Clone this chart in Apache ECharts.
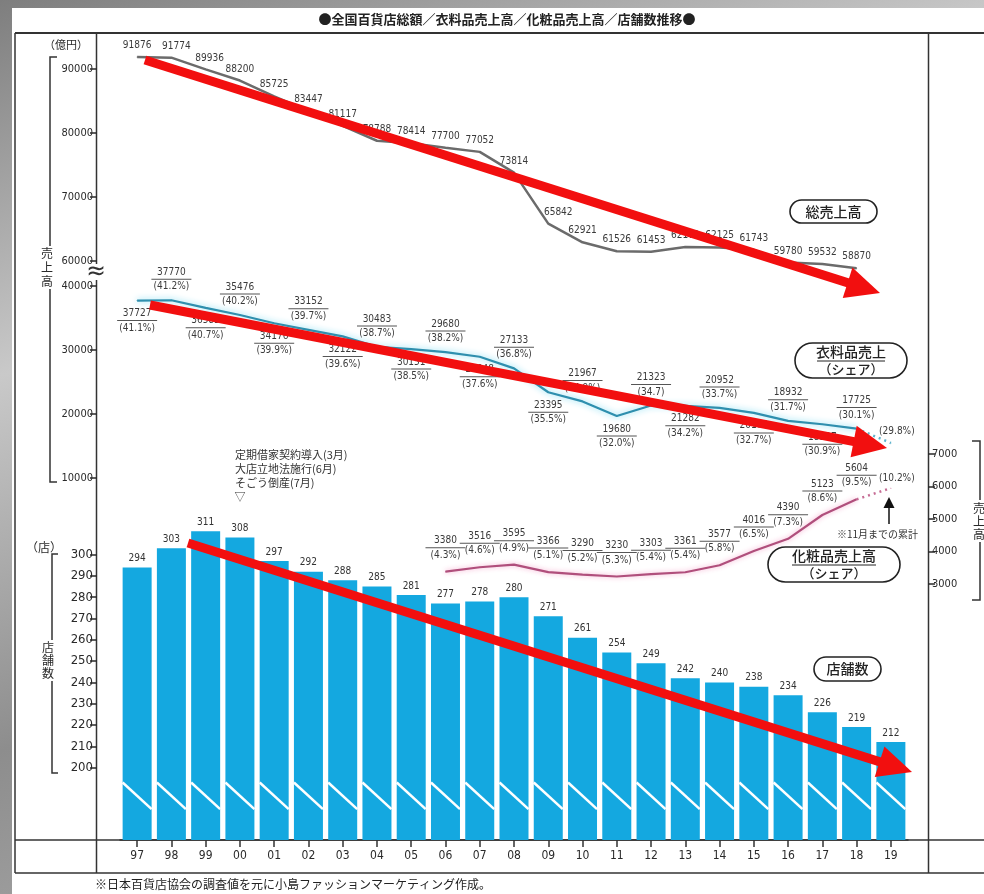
<!DOCTYPE html>
<html>
<head>
<meta charset="utf-8">
<script src="https://cdn.jsdelivr.net/npm/echarts@6/dist/echarts.min.js"></script>
<style>
  html, body { margin: 0; padding: 0; width: 984px; height: 894px; overflow: hidden;
    background: linear-gradient(160deg, #7e7e7e 0%, #c9c9c9 30%, #8d8d8d 60%, #bdbdbd 100%); }
  #sheet { position: absolute; left: 12px; top: 8px; right: 0; bottom: 0; background: #fff; }
  #chart { position: absolute; left: 0; top: 0; width: 984px; height: 894px; }
</style>
</head>
<body>
<div id="sheet"></div>
<div id="chart"></div>
<script>
// Fiscal years (two-digit)
const years = ['97','98','99','00','01','02','03','04','05','06','07','08','09','10','11','12','13','14','15','16','17','18','19'];

// 全国百貨店 総売上高 (億円)
const totalSales = [91876, 91774, 89936, 88200, 85725, 83447, 81117, 78788, 78414, 77700, 77052, 73814,
  65842, 62921, 61526, 61453, 62171, 62125, 61743, 59780, 59532, 58870, null];

// 衣料品売上高 (億円) and share of total
const apparelSales = [37727, 37770, 36585, 35476, 34176, 33152, 32122, 30483, 30151, 29680, 28948, 27133,
  23395, 21967, 19680, 21323, 21282, 20952, 20172, 18932, 18397, 17725, null];
const apparelShare = ['41.1%', '41.2%', '40.7%', '40.2%', '39.9%', '39.7%', '39.6%', '38.7%', '38.5%', '38.2%', '37.6%', '36.8%',
  '35.5%', '34.9%', '32.0%', '34.7', '34.2%', '33.7%', '32.7%', '31.7%', '30.9%', '30.1%', '29.8%'];
// 2019 (January–November cumulative) apparel estimate
const apparel2019 = 15470;

// 化粧品売上高 (億円) and share of total
const cosmeticsSales = [null, null, null, null, null, null, null, null, null,
  3380, 3516, 3595, 3366, 3290, 3230, 3303, 3361, 3577, 4016, 4390, 5123, 5604, null];
const cosmeticsShare = [null, null, null, null, null, null, null, null, null,
  '4.3%', '4.6%', '4.9%', '5.1%', '5.2%', '5.3%', '5.4%', '5.4%', '5.8%', '6.5%', '7.3%', '8.6%', '9.5%', '10.2%'];
// 2019 (January–November cumulative) cosmetics estimate
const cosmetics2019 = 5950;

// 店舗数
const storeCount = [294, 303, 311, 308, 297, 292, 288, 285, 281, 277, 278, 280, 271, 261, 254, 249, 242, 240, 238, 234, 226, 219, 212];

// Axis tick labels
const totalTicks = [60000, 70000, 80000, 90000];
const apparelTicks = [10000, 20000, 30000, 40000];
const cosmeticsTicks = [3000, 4000, 5000, 6000, 7000];
const storeTicks = [200, 210, 220, 230, 240, 250, 260, 270, 280, 290, 300];

const NUM_FONT = "'Liberation Sans Narrow','DejaVu Sans Condensed','Noto Sans',sans-serif";
const JP_FONT = "'Noto Sans CJK JP','Noto Sans',sans-serif";
const INK = '#2a2a2a';
const LAST = years.length - 1;

const chart = echarts.init(document.getElementById('chart'), null, { renderer: 'canvas' });

// value over a rule, share underneath
const fractionRich = {
  v: { fontSize: 10, lineHeight: 11, color: '#3a3a3a', fontFamily: NUM_FONT, align: 'center' },
  hr: { width: 40, height: 1, lineHeight: 3, backgroundColor: '#555', align: 'center' },
  p: { fontSize: 10, lineHeight: 12, color: '#3a3a3a', fontFamily: NUM_FONT, align: 'center' }
};
const fraction = (v, s) => `{v|${v}}\n{hr| }\n{p|(${s})}`;

const apparelData = apparelSales.map((v, i) => v == null ? null : ({
  value: v,
  label: {
    show: true,
    position: i % 2 === 0 ? 'bottom' : 'top',
    distance: 7,
    formatter: fraction(v, apparelShare[i]),
    rich: fractionRich
  }
}));

const apparelTail = apparelSales.map((v, i) => i === LAST - 1 ? v : null);
apparelTail[LAST] = {
  value: apparel2019,
  label: { show: true, position: 'top', distance: 6, offset: [6, 0],
    formatter: '(' + apparelShare[LAST] + ')', fontSize: 10, color: '#3a3a3a', fontFamily: NUM_FONT }
};

const cosmeticsData = cosmeticsSales.map((v, i) => v == null ? null : ({
  value: v,
  label: {
    show: true, position: 'top', distance: 10,
    formatter: fraction(v, cosmeticsShare[i]), rich: fractionRich
  }
}));
const cosmeticsTail = cosmeticsSales.map((v, i) => i === LAST - 1 ? v : null);
cosmeticsTail[LAST] = {
  value: cosmetics2019,
  label: { show: true, position: 'top', distance: 4, offset: [6, 0],
    formatter: '(' + cosmeticsShare[LAST] + ')', fontSize: 10, color: '#3a3a3a', fontFamily: NUM_FONT }
};

const totalLabelShift = { 1: [5, 0], 2: [4, 0], 12: [10, 0] };
const totalData = totalSales.map((v, i) => v == null ? null : ({
  value: v,
  label: { offset: totalLabelShift[i] || [0, 0] }
}));

function axisCommon(ticks, fontSize) {
  return {
    axisLine: { show: false },
    splitLine: { show: false },
    axisTick: { show: true, length: 7, inside: false, customValues: ticks, lineStyle: { color: INK, width: 1.5 } },
    axisLabel: { show: true, customValues: ticks, margin: 4, fontSize: fontSize, color: INK, fontFamily: NUM_FONT,
      formatter: (v) => String(v) }
  };
}

// Red trend arrows drawn on top of the chart
function arrow(x1, y1, x2, y2) {
  const dx = x2 - x1, dy = y2 - y1, L = Math.hypot(dx, dy);
  const ux = dx / L, uy = dy / L, px = -uy, py = ux;
  const hl = 34, hw = 16;
  const bx = x2 - ux * hl, by = y2 - uy * hl;
  return [
    { type: 'line', z: 100, shape: { x1: x1, y1: y1, x2: bx + ux * 3, y2: by + uy * 3 },
      style: { stroke: '#f20f0f', lineWidth: 9 } },
    { type: 'polygon', z: 100, shape: { points: [[x2, y2], [bx + px * hw, by + py * hw], [bx - px * hw, by - py * hw]] },
      style: { fill: '#f20f0f' } }
  ];
}

function pill(x, y, w, h, lines, underlineWidth) {
  const els = [{ type: 'rect', shape: { x: x, y: y, width: w, height: h, r: h / 2 },
    style: { fill: '#fff', stroke: '#222', lineWidth: 1.6 }, z: 20 }];
  if (lines.length === 1) {
    els.push({ type: 'text', z: 21, style: { text: lines[0], x: x + w / 2, y: y + h / 2, align: 'center', verticalAlign: 'middle',
      font: '500 14px ' + JP_FONT, fill: '#222' } });
  } else {
    els.push({ type: 'text', z: 21, style: { text: lines[0], x: x + w / 2, y: y + 9, align: 'center', verticalAlign: 'middle',
      font: '500 14px ' + JP_FONT, fill: '#222' } });
    els.push({ type: 'line', z: 21, shape: { x1: x + w / 2 - underlineWidth / 2, y1: y + 18, x2: x + w / 2 + underlineWidth / 2, y2: y + 18 },
      style: { stroke: '#222', lineWidth: 1 } });
    els.push({ type: 'text', z: 21, style: { text: lines[1], x: x + w / 2, y: y + 26, align: 'center', verticalAlign: 'middle',
      font: '500 13px ' + JP_FONT, fill: '#222' } });
  }
  return els;
}

const frameStyle = { stroke: '#333', lineWidth: 1.5 };
const graphics = [
  // title
  { type: 'text', style: { text: '●全国百貨店総額／衣料品売上高／化粧品売上高／店舗数推移●', x: 507, y: 19,
    align: 'center', verticalAlign: 'middle', font: 'bold 13px ' + JP_FONT, fill: '#222' } },
  // frame
  { type: 'line', shape: { x1: 15, y1: 33, x2: 984, y2: 33 }, style: { stroke: '#333', lineWidth: 2.2 } },
  { type: 'line', shape: { x1: 15, y1: 33, x2: 15, y2: 873 }, style: frameStyle },
  { type: 'line', shape: { x1: 15, y1: 873, x2: 984, y2: 873 }, style: frameStyle },
  { type: 'line', shape: { x1: 96.5, y1: 33, x2: 96.5, y2: 873 }, style: frameStyle },
  { type: 'line', shape: { x1: 928.5, y1: 33, x2: 928.5, y2: 873 }, style: frameStyle },
  { type: 'line', shape: { x1: 15, y1: 840, x2: 984, y2: 840 }, style: frameStyle },
  // axis break
  { type: 'rect', shape: { x: 86, y: 264, width: 21, height: 16 }, style: { fill: '#fff' }, z: 5 },
  { type: 'text', z: 6, style: { text: '≈', x: 96, y: 272, align: 'center', verticalAlign: 'middle', font: '26px ' + NUM_FONT, fill: '#333' } },
  // left column: sales unit and bracket
  { type: 'text', style: { text: '（億円）', x: 66, y: 45, align: 'center', verticalAlign: 'middle', font: '11px ' + JP_FONT, fill: INK } },
  { type: 'polyline', shape: { points: [[57, 57], [50, 57], [50, 246]] }, style: { stroke: '#333', lineWidth: 1.5, fill: null } },
  { type: 'polyline', shape: { points: [[50, 289], [50, 482], [57, 482]] }, style: { stroke: '#333', lineWidth: 1.5, fill: null } },
  { type: 'text', style: { text: '売\n上\n高', x: 47, y: 267, align: 'center', verticalAlign: 'middle', lineHeight: 14,
    font: '12px ' + JP_FONT, fill: INK } },
  // left column: store unit and bracket
  { type: 'text', style: { text: '（店）', x: 44, y: 547, align: 'center', verticalAlign: 'middle', font: '12px ' + JP_FONT, fill: INK } },
  { type: 'polyline', shape: { points: [[58, 554], [52, 554], [52, 640]] }, style: { stroke: '#333', lineWidth: 1.5, fill: null } },
  { type: 'polyline', shape: { points: [[52, 681], [52, 773], [58, 773]] }, style: { stroke: '#333', lineWidth: 1.5, fill: null } },
  { type: 'text', style: { text: '店\n舗\n数', x: 48, y: 660, align: 'center', verticalAlign: 'middle', lineHeight: 13,
    font: '12px ' + JP_FONT, fill: INK } },
  // right column bracket
  { type: 'polyline', shape: { points: [[972, 441], [980, 441], [980, 500]] }, style: { stroke: '#333', lineWidth: 1.5, fill: null } },
  { type: 'polyline', shape: { points: [[980, 542], [980, 600], [972, 600]] }, style: { stroke: '#333', lineWidth: 1.5, fill: null } },
  { type: 'text', style: { text: '売\n上\n高', x: 979, y: 521, align: 'center', verticalAlign: 'middle', lineHeight: 13,
    font: '12px ' + JP_FONT, fill: INK } },
  // 2000 events
  { type: 'text', style: { text: '定期借家契約導入(3月)\n大店立地法施行(6月)\nそごう倒産(7月)', x: 235, y: 448,
    lineHeight: 14, font: '11px ' + JP_FONT, fill: '#333' } },
  { type: 'text', style: { text: '▽', x: 240, y: 497, align: 'center', verticalAlign: 'middle', font: '11px ' + JP_FONT, fill: '#333' } },
  // 2019 note
  { type: 'line', shape: { x1: 889, y1: 524, x2: 889, y2: 506 }, style: { stroke: '#111', lineWidth: 1.5 } },
  { type: 'polygon', shape: { points: [[889, 497], [883.5, 508], [894.5, 508]] }, style: { fill: '#111' } },
  { type: 'text', style: { text: '※11月までの累計', x: 837, y: 534, verticalAlign: 'middle', font: '10px ' + JP_FONT, fill: '#333' } },
  // footer
  { type: 'text', style: { text: '※日本百貨店協会の調査値を元に小島ファッションマーケティング作成。', x: 95, y: 884,
    verticalAlign: 'middle', font: '12px ' + JP_FONT, fill: '#222' } }
]
  .concat(pill(790, 200, 87, 23, ['総売上高']))
  .concat(pill(795, 343, 112, 35, ['衣料品売上', '（シェア）'], 68))
  .concat(pill(768, 547, 132, 35, ['化粧品売上高', '（シェア）'], 84))
  .concat(pill(814, 657, 67, 24, ['店舗数']))
  .concat(arrow(145, 60, 880, 293))
  .concat(arrow(150, 305, 887, 448))
  .concat(arrow(188, 543, 912, 772));

const hiddenX = (gi) => ({ type: 'category', gridIndex: gi, data: years, boundaryGap: true, show: false });

const option = {
  animation: false,
  backgroundColor: 'transparent',
  textStyle: { fontFamily: NUM_FONT },
  grid: [
    { left: 120, right: 76, top: 30.6, height: 256 },
    { left: 120, right: 76, top: 286, height: 192 },
    { left: 120, right: 76, top: 454, height: 130 },
    { left: 120, right: 76, top: 512, height: 328 }
  ],
  xAxis: [
    hiddenX(0), hiddenX(1), hiddenX(2),
    {
      type: 'category', gridIndex: 3, data: years, boundaryGap: true,
      axisLine: { show: true, lineStyle: { color: '#333', width: 1.5 } },
      axisTick: { show: true, alignWithLabel: true, length: 7, lineStyle: { color: '#333', width: 1.5 } },
      axisLabel: { margin: 10, fontSize: 12, color: INK, fontFamily: NUM_FONT }
    }
  ],
  yAxis: [
    Object.assign({ type: 'value', gridIndex: 0, min: 56000, max: 96000, offset: 23 }, axisCommon(totalTicks, 11)),
    Object.assign({ type: 'value', gridIndex: 1, min: 10000, max: 40000, offset: 23 }, axisCommon(apparelTicks, 11)),
    Object.assign({ type: 'value', gridIndex: 2, min: 3000, max: 7000, offset: 20, position: 'right' }, axisCommon(cosmeticsTicks, 11)),
    Object.assign({ type: 'value', gridIndex: 3, min: 166, max: 320, offset: 23 }, axisCommon(storeTicks, 13))
  ],
  graphic: graphics,
  series: [
    {
      name: '店舗数', type: 'bar', xAxisIndex: 3, yAxisIndex: 3, data: storeCount, barWidth: 29, z: 1,
      itemStyle: { color: '#14a8e0' },
      label: { show: true, position: 'top', distance: 4, fontSize: 10, color: '#333', fontFamily: NUM_FONT }
    },
    {
      // white break strokes across the lower part of every bar
      name: 'break', type: 'custom', xAxisIndex: 3, yAxisIndex: 3, z: 3, silent: true,
      data: storeCount.map((v, i) => [i, v]),
      renderItem: function (params, api) {
        const i = api.value(0);
        const a = api.coord([i, 193]);
        const b = api.coord([i, 180.5]);
        return { type: 'line', shape: { x1: a[0] - 14.5, y1: a[1], x2: a[0] + 14.5, y2: b[1] },
          style: { stroke: '#ffffff', lineWidth: 2.5 } };
      }
    },
    {
      name: '総売上高', type: 'line', xAxisIndex: 0, yAxisIndex: 0, data: totalData, z: 5,
      symbol: 'circle', symbolSize: 1, showSymbol: true,
      lineStyle: { color: '#6b6b6b', width: 2.5 }, itemStyle: { color: '#6b6b6b' },
      label: { show: true, position: 'top', distance: 6, fontSize: 10, color: '#3a3a3a', fontFamily: NUM_FONT }
    },
    {
      name: '衣料品売上', type: 'line', xAxisIndex: 1, yAxisIndex: 1, data: apparelData, z: 5,
      symbol: 'circle', symbolSize: 1, showSymbol: true,
      lineStyle: { color: '#2f8fae', width: 2.2, shadowColor: 'rgba(110,215,240,0.95)', shadowBlur: 6 },
      itemStyle: { color: '#2f8fae' }
    },
    {
      name: '衣料品売上2019', type: 'line', xAxisIndex: 1, yAxisIndex: 1, data: apparelTail, z: 5,
      symbol: 'circle', symbolSize: 1, showSymbol: true, connectNulls: false,
      lineStyle: { color: '#5fb3cc', width: 2.5, type: [2, 4] }, itemStyle: { color: '#5fb3cc' }
    },
    {
      name: '化粧品売上高', type: 'line', xAxisIndex: 2, yAxisIndex: 2, data: cosmeticsData, z: 5,
      symbol: 'circle', symbolSize: 1, showSymbol: true,
      lineStyle: { color: '#b04f7c', width: 2.2, shadowColor: 'rgba(245,160,200,0.9)', shadowBlur: 5 },
      itemStyle: { color: '#b04f7c' }
    },
    {
      name: '化粧品売上高2019', type: 'line', xAxisIndex: 2, yAxisIndex: 2, data: cosmeticsTail, z: 5,
      symbol: 'circle', symbolSize: 1, showSymbol: true,
      lineStyle: { color: '#c66d95', width: 2.5, type: [2, 4] }, itemStyle: { color: '#c66d95' }
    }
  ]
};

chart.setOption(option);
</script>
</body>
</html>
